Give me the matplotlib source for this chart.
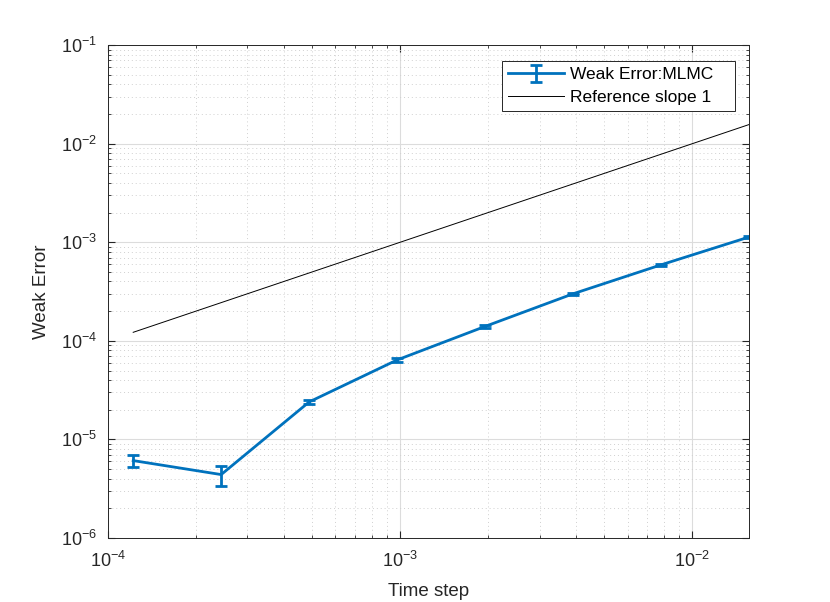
import numpy as np
import matplotlib
matplotlib.use('Agg')
from matplotlib import pyplot as plt
from matplotlib.ticker import LogLocator, NullFormatter

plt.rcParams['font.family'] = ['Liberation Sans', 'DejaVu Sans']

# time steps 2^-13 ... 2^-6
dt = [2.0**-13, 2.0**-12, 2.0**-11, 2.0**-10, 2.0**-9, 2.0**-8, 2.0**-7, 2.0**-6]
weak_err = [6.1e-6, 4.4e-6, 2.4e-5, 6.4e-5, 1.4e-4, 3.0e-4, 5.9e-4, 1.13e-3]
err_bar = [0.9e-6, 1.0e-6, 1.2e-6, 2.5e-6, 4e-6, 8e-6, 1.5e-5, 2.5e-5]
ref = dt  # slope 1 reference

fig = plt.figure(figsize=(8.3, 6.02), dpi=100)
ax = fig.add_axes([0.13, 0.1063, 0.7724, 0.8188])

h1 = ax.errorbar(dt, weak_err, yerr=err_bar, color='#0072BD', linewidth=2,
                 capsize=4, capthick=2, elinewidth=2, label='Weak Error:MLMC')
h2, = ax.plot(dt, ref, color='black', linewidth=0.7, label='Reference slope 1')

ax.set_xscale('log')
ax.set_yscale('log')
ax.set_xlim(1e-4, 2.0**-6)
ax.set_ylim(1e-6, 1e-1)

ax.xaxis.set_major_locator(LogLocator(base=10, numticks=10))
ax.yaxis.set_major_locator(LogLocator(base=10, numticks=10))
ax.xaxis.set_minor_locator(LogLocator(base=10, subs=np.arange(2, 10), numticks=20))
ax.yaxis.set_minor_locator(LogLocator(base=10, subs=np.arange(2, 10), numticks=20))
ax.xaxis.set_minor_formatter(NullFormatter())
ax.yaxis.set_minor_formatter(NullFormatter())

ax.grid(True, which='major', color='#dcdcdc', linewidth=0.8, linestyle='-')
ax.grid(True, which='minor', color='#d0d0d0', linewidth=0.7, linestyle=(0, (1, 3)))
ax.set_axisbelow(True)

ax.tick_params(which='both', direction='in', top=True, right=True, labelsize=13, colors='#262626')
ax.tick_params(which='major', length=5)
ax.tick_params(which='minor', length=2.5)
ax.tick_params(axis='x', which='major', pad=9)
ax.tick_params(axis='y', which='major', pad=8)
for s in ax.spines.values():
    s.set_color('#262626')
    s.set_linewidth(0.7)

ax.set_xlabel('Time step', fontsize=13.5, color='#262626', labelpad=9)
ax.set_ylabel('Weak Error', fontsize=13.5, color='#262626', labelpad=8)

leg = ax.legend([h1, h2], ['Weak Error:MLMC', 'Reference slope 1'],
                loc='upper left', bbox_to_anchor=(0.6147, 0.868, 0.3635, 0.0995),
                mode='expand', fontsize=12.5,
                fancybox=False, framealpha=1, edgecolor='#262626',
                handlelength=3.2, borderpad=0.35, labelspacing=0.45, handletextpad=0.35,
                borderaxespad=0)
leg.get_frame().set_linewidth(0.7)

fig.savefig('out.png', dpi=100)
